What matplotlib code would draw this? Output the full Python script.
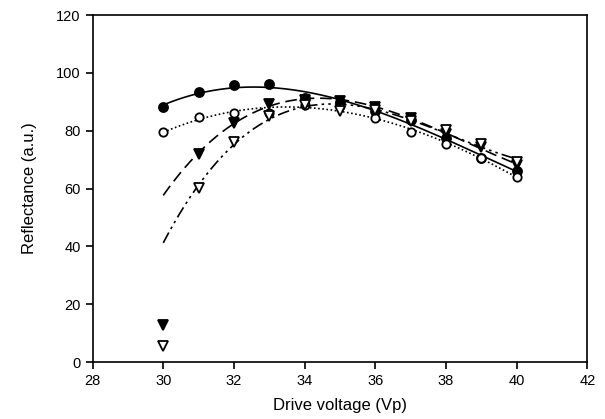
import numpy as np
import matplotlib
matplotlib.use("Agg")
import matplotlib.pyplot as plt

plt.rcParams['font.family'] = ['Liberation Sans', 'DejaVu Sans']

voltage = [30, 31, 32, 33, 34, 35, 36, 37, 38, 39, 40]

# four measured series (reflectance, a.u.)
filled_circle = [88.3, 93.3, 95.7, 96.2, 91.2, 90.0, 86.8, 83.8, 77.5, 70.5, 66.0]
open_circle = [79.4, 84.6, 86.3, 86.0, 89.0, 88.5, 84.3, 79.7, 75.3, 70.5, 64.1]
filled_tri = [12.8, 72.0, 82.8, 89.4, 90.5, 90.2, 88.3, 84.3, 79.0, 74.5, 68.0]
open_tri = [5.5, 60.3, 76.2, 85.0, 89.0, 86.8, 87.0, 83.5, 80.2, 75.3, 69.3]

# the low 30 Vp triangle readings are left out of their fits
fit_start = [0, 0, 1, 1]

series = [filled_circle, open_circle, filled_tri, open_tri]
markers = ['o', 'o', 'v', 'v']
sizes = [6.5, 6, 6.5, 6.5]
faces = ['black', 'white', 'black', 'white']
dashes = [(None, None), (1, 1.5), (7, 3.5), (7, 2.5, 1.5, 2.5, 1.5, 2.5)]

fig = plt.figure(figsize=(6.05, 4.19), dpi=100)
ax = fig.add_axes([0.153, 0.136, 0.818, 0.828])

x = np.array(voltage, dtype=float)
xs = np.linspace(30, 40, 200)
for y, m, ms, fc, d, s in zip(series, markers, sizes, faces, dashes, fit_start):
    y = np.array(y)
    coef = np.polyfit(x[s:], y[s:], 3)
    line, = ax.plot(xs, np.polyval(coef, xs), color='black', lw=1.2)
    if d[0] is not None:
        line.set_dashes(d)
    ax.plot(x, y, linestyle='none', marker=m, markersize=ms,
            markerfacecolor=fc, markeredgecolor='black', markeredgewidth=1.3)

ax.set_xlim(28, 42)
ax.set_ylim(0, 120)
ax.set_xticks(range(28, 43, 2))
ax.set_yticks(range(0, 121, 20))
ax.tick_params(direction='out', length=5, width=1.2, labelsize=10.5,
               top=False, right=False)
for sp in ax.spines.values():
    sp.set_linewidth(1.2)
ax.set_xlabel('Drive voltage (Vp)', fontsize=12, labelpad=7)
ax.set_ylabel('Reflectance (a.u.)', fontsize=12, labelpad=14)

fig.savefig('out.png', dpi=100)
